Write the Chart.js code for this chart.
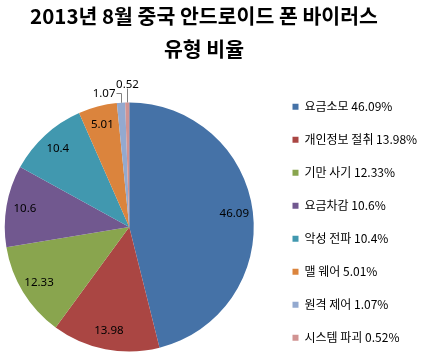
<!DOCTYPE html>
<html>
<head>
<meta charset="utf-8">
<script src="https://cdn.jsdelivr.net/npm/chart.js@4"></script>
<style>
html, body { margin: 0; padding: 0; background: #fff; overflow: hidden; }
#wrap { position: relative; width: 434px; height: 357px; overflow: hidden; }
#title {
  position: absolute; left: 0; top: -1px; width: 408px; text-align: center;
  font-family: 'Noto Sans CJK KR', sans-serif; font-weight: bold; font-size: 20.5px;
  line-height: 33px; color: #000; z-index: 2;
}
#chart { position: absolute; left: -13px; top: 0; }
</style>
</head>
<body>
<div id="wrap">
  <div id="title"></div>
  <canvas id="chart" width="447" height="375"></canvas>
</div>
<script>
// ---- data ----
const titleLines = ['2013년 8월 중국 안드로이드 폰 바이러스', '유형 비율'];
const categories = ['요금소모', '개인정보 절취', '기만 사기', '요금차감', '악성 전파', '맬 웨어', '원격 제어', '시스템 파괴'];
const shares = [46.09, 13.98, 12.33, 10.6, 10.4, 5.01, 1.07, 0.52];
const sliceColors = ['#4572A7', '#AA4643', '#89A54E', '#71588F', '#4198AF', '#DB843D', '#93A9CF', '#D19392'];

document.getElementById('title').innerHTML = titleLines.map(t => '<div>' + t + '</div>').join('');

const legendTexts = categories.map((c, i) => c + ' ' + shares[i] + '%');
const LEGEND_FAMILY = "'Noto Sans CJK KR', sans-serif";
const LEGEND_SIZE = 12;
const LEGEND_PAD = 21;
const BOX = 6;
const CANVAS_W = 447;

// measure legend text so the legend block lands at a fixed place
const mctx = document.createElement('canvas').getContext('2d');
mctx.font = 'normal ' + LEGEND_SIZE + 'px ' + LEGEND_FAMILY;
const maxTextW = Math.max(...legendTexts.map(t => mctx.measureText(t).width));
const legendNatural = LEGEND_PAD + BOX + LEGEND_SIZE / 2 + maxTextW + 10;
const legendLeft = 284.5;
const padRight = Math.max(0, CANVAS_W - legendLeft - legendNatural);

const sliceLabels = {
  id: 'sliceLabels',
  afterDatasetsDraw(chart) {
    const ctx = chart.ctx;
    const meta = chart.getDatasetMeta(0);
    const vals = chart.data.datasets[0].data;
    ctx.save();
    ctx.font = "11.5px 'Noto Sans', sans-serif";
    ctx.fillStyle = '#000';
    ctx.strokeStyle = '#808080';
    ctx.lineWidth = 1;
    meta.data.forEach((arc, i) => {
      const p = arc.getProps(['x', 'y', 'startAngle', 'endAngle', 'outerRadius'], true);
      const mid = (p.startAngle + p.endAngle) / 2;
      const text = String(vals[i]);
      if (vals[i] >= 2) {
        ctx.textAlign = 'center';
        ctx.textBaseline = 'middle';
        const r = p.outerRadius * 0.85;
        ctx.fillText(text, p.x + Math.cos(mid) * r, p.y + Math.sin(mid) * r);
      } else {
        const ex = Math.round(p.x + Math.cos(mid) * p.outerRadius) + 0.5;
        const ey = p.y + Math.sin(mid) * p.outerRadius;
        if (i === vals.length - 1) {
          ctx.beginPath();
          ctx.moveTo(ex, ey);
          ctx.lineTo(ex, ey - 14);
          ctx.stroke();
          ctx.textAlign = 'center';
          ctx.textBaseline = 'alphabetic';
          ctx.fillText(text, ex, ey - 14.5);
        } else {
          const ty = Math.round(ey - 10) + 0.5;
          ctx.beginPath();
          ctx.moveTo(ex, ey);
          ctx.lineTo(ex, ty);
          ctx.lineTo(ex - 5, ty);
          ctx.stroke();
          ctx.textAlign = 'right';
          ctx.textBaseline = 'middle';
          ctx.fillText(text, ex - 6, ty);
        }
      }
    });
    ctx.restore();
  }
};

new Chart(document.getElementById('chart'), {
  type: 'pie',
  data: {
    labels: categories,
    datasets: [{
      data: shares,
      backgroundColor: sliceColors,
      borderWidth: 0,
      radius: 124.5
    }]
  },
  options: {
    responsive: false,
    animation: false,
    layout: { padding: { left: 0, right: padRight, top: 79.7, bottom: 0.7 } },
    plugins: {
      title: { display: false },
      tooltip: { enabled: false },
      legend: {
        position: 'right',
        align: 'start',
        labels: {
          boxWidth: BOX,
          boxHeight: BOX,
          padding: LEGEND_PAD,
          color: '#000',
          font: { family: LEGEND_FAMILY, size: LEGEND_SIZE },
          generateLabels(chart) {
            return legendTexts.map((t, i) => ({
              text: t,
              fillStyle: sliceColors[i],
              strokeStyle: sliceColors[i],
              lineWidth: 0,
              fontColor: '#000',
              hidden: false,
              index: i
            }));
          }
        }
      }
    }
  },
  plugins: [sliceLabels]
});
</script>
</body>
</html>
